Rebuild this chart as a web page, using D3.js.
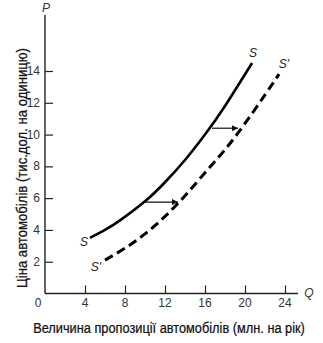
<!DOCTYPE html>
<html>
<head>
<meta charset="utf-8">
<script src="https://cdn.jsdelivr.net/npm/d3@7"></script>
<style>
  html, body { margin: 0; padding: 0; background: #fff; }
  svg { display: block; }
</style>
</head>
<body>
<svg id="chart" width="323" height="343"></svg>
<script>
// Supply curves: quantity (mln per year) vs price (thousand $ per unit)
const supplyS = [
  [4.5, 3.5], [6, 4.0], [7.5, 4.6], [10, 5.8], [12, 7.0],
  [14, 8.4], [16, 10.0], [18, 11.8], [20.7, 14.5]
];
const supplyS2 = [
  [6, 2.1], [8, 2.85], [10, 3.75], [12, 4.85], [14, 6.15],
  [16, 7.6], [18, 9.05], [20, 10.7], [22, 12.5], [23.4, 13.8]
];
// Horizontal shift arrows: [fromQ, toQ, price]
const shifts = [[10, 13.3, 5.75], [16.7, 19.3, 10.4]];
const xTicks = [4, 8, 12, 16, 20, 24];
const yTicks = [2, 4, 6, 8, 10, 12, 14];
const curveLabels = [
  {text: "S", q: 20.7, p: 14.5, dx: 1, dy: -6},
  {text: "S'", q: 23.4, p: 13.8, dx: 5, dy: -6},
  {text: "S", q: 4.5, p: 3.5, dx: -6, dy: 8},
  {text: "S'", q: 6, p: 2.1, dx: -9, dy: 11}
];

const svg = d3.select("#chart");
const x = d3.scaleLinear().domain([0, 25]).range([45, 295]);
const y = d3.scaleLinear().domain([0, 14]).range([293.5, 71]);
const font = "Liberation Sans, Arial, sans-serif";

svg.append("defs").append("marker")
  .attr("id", "head").attr("viewBox", "0 0 10 10")
  .attr("refX", 10).attr("refY", 5)
  .attr("markerWidth", 9).attr("markerHeight", 6)
  .attr("markerUnits", "userSpaceOnUse")
  .attr("orient", "auto")
  .append("path").attr("d", "M0,0 L10,5 L0,10 Z").attr("fill", "#111");

// Axes
const xAxis = svg.append("g").attr("transform", `translate(0,${y(0)})`)
  .call(d3.axisTop(x).tickValues(xTicks).tickSize(8).tickFormat(""));
const yAxis = svg.append("g").attr("transform", `translate(${x(0)},0)`)
  .call(d3.axisRight(y).tickValues(yTicks).tickSize(8).tickFormat(""));
[xAxis, yAxis].forEach(g => {
  g.select(".domain").remove();
  g.selectAll(".tick line").attr("stroke", "#222").attr("stroke-width", 1.2);
});
svg.append("line").attr("x1", x(0)).attr("x2", 298)
  .attr("y1", y(0)).attr("y2", y(0)).attr("stroke", "#222").attr("stroke-width", 1.4);
svg.append("line").attr("x1", x(0)).attr("x2", x(0))
  .attr("y1", y(0)).attr("y2", 15).attr("stroke", "#222").attr("stroke-width", 1.4);

// Tick labels
svg.append("g").selectAll("text").data(xTicks).join("text")
  .attr("x", d => x(d)).attr("y", 307).attr("text-anchor", "middle")
  .attr("font-family", font).attr("font-size", 12).attr("fill", "#333")
  .text(d => d);
svg.append("text").attr("x", 38).attr("y", 307).attr("text-anchor", "middle")
  .attr("font-family", font).attr("font-size", 12).attr("fill", "#333").text("0");
svg.append("g").selectAll("text").data(yTicks).join("text")
  .attr("x", 40).attr("y", d => y(d) + 4).attr("text-anchor", "end")
  .attr("font-family", font).attr("font-size", 12).attr("fill", "#333")
  .text(d => d);

// Axis letters
svg.append("text").attr("x", 46).attr("y", 12).attr("text-anchor", "middle")
  .attr("font-family", font).attr("font-size", 12).attr("font-style", "italic")
  .attr("fill", "#333").text("P");
svg.append("text").attr("x", 309).attr("y", 297).attr("text-anchor", "middle")
  .attr("font-family", font).attr("font-size", 12).attr("font-style", "italic")
  .attr("fill", "#333").text("Q");

// Axis titles, horizontally condensed to fit their span
function condensedTitle(cx, cy, angle, target, label) {
  const g = svg.append("g");
  const t = g.append("text").attr("text-anchor", "middle")
    .attr("font-family", font).attr("font-size", 14.5).attr("fill", "#111")
    .attr("stroke", "#111").attr("stroke-width", 0.25)
    .text(label);
  const w = t.node().getComputedTextLength() || target;
  g.attr("transform", `translate(${cx},${cy}) rotate(${angle}) scale(${target / w},1)`);
}
condensedTitle(169, 333, 0, 272, "Величина пропозиції автомобілів (млн. на рік)");
condensedTitle(27, 168, -90, 240, "Ціна автомобілів (тис.дол. на одиницю)");

// Curves
const line = d3.line().x(d => x(d[0])).y(d => y(d[1])).curve(d3.curveNatural);
svg.append("path").attr("d", line(supplyS)).attr("fill", "none")
  .attr("stroke", "#000").attr("stroke-width", 2.6);
svg.append("path").attr("d", line(supplyS2)).attr("fill", "none")
  .attr("stroke", "#000").attr("stroke-width", 3)
  .attr("stroke-dasharray", "9,5");

// Shift arrows
svg.append("g").selectAll("line").data(shifts).join("line")
  .attr("x1", d => x(d[0])).attr("x2", d => x(d[1]))
  .attr("y1", d => y(d[2])).attr("y2", d => y(d[2]))
  .attr("stroke", "#111").attr("stroke-width", 1.2)
  .attr("marker-end", "url(#head)");

// Curve labels
svg.append("g").selectAll("text").data(curveLabels).join("text")
  .attr("x", d => x(d.q) + d.dx).attr("y", d => y(d.p) + d.dy)
  .attr("text-anchor", "middle")
  .attr("font-family", font).attr("font-size", 12).attr("font-style", "italic")
  .attr("fill", "#222").text(d => d.text);
</script>
</body>
</html>
